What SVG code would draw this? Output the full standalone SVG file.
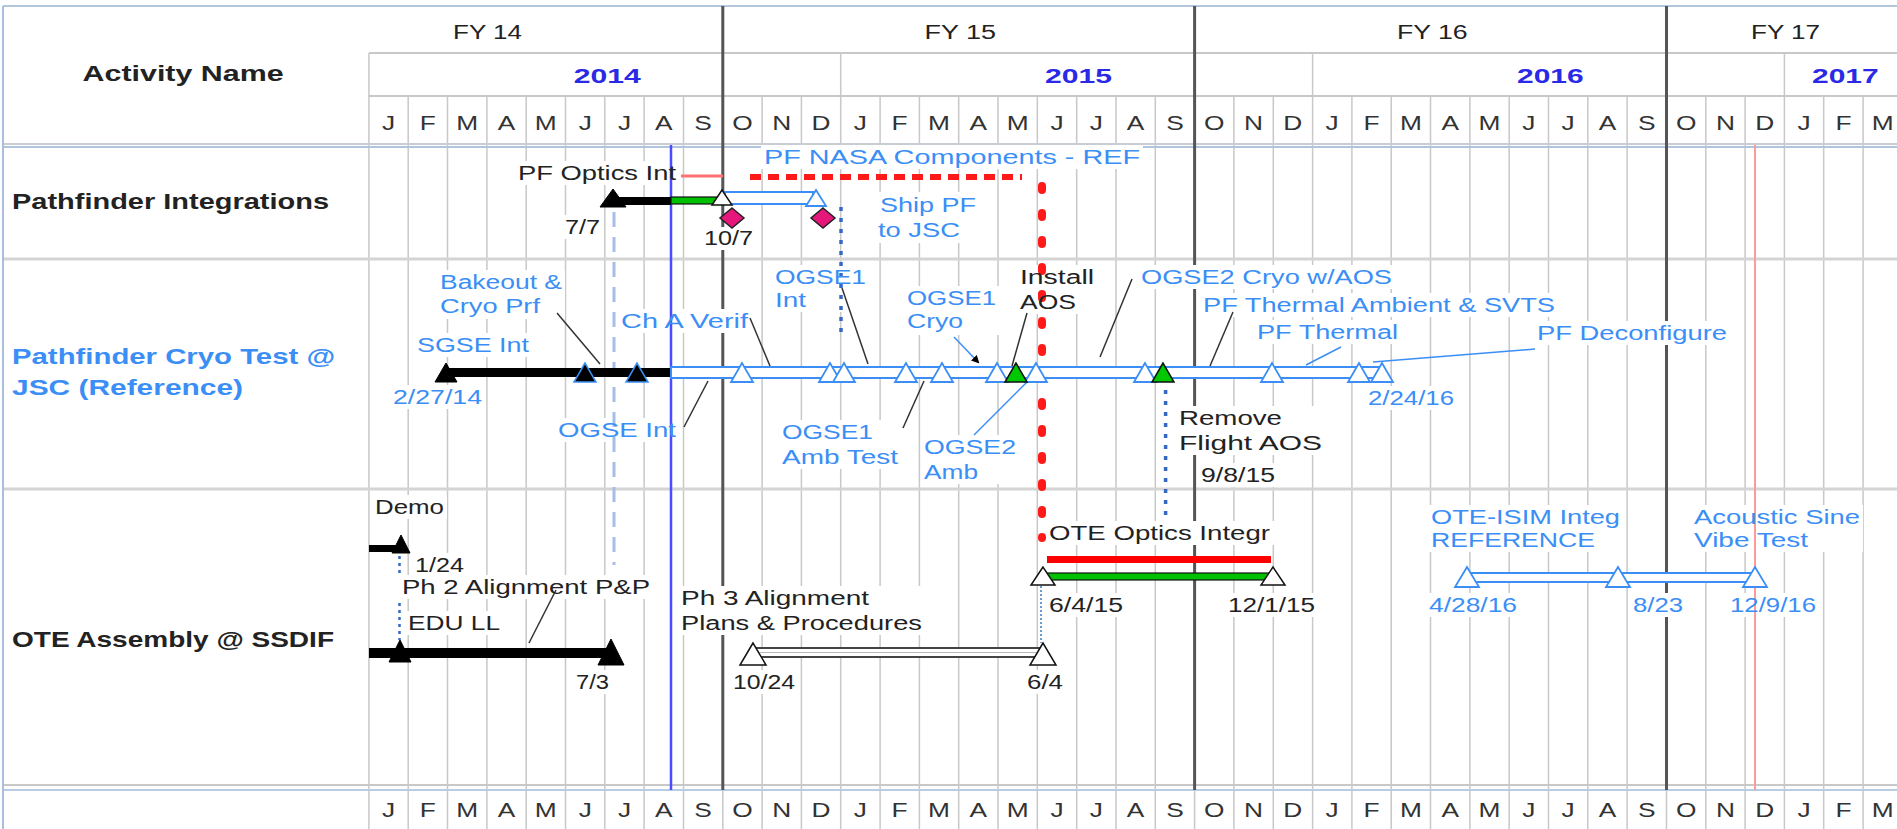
<svg xmlns="http://www.w3.org/2000/svg" width="1897" height="829" viewBox="0 0 1897 829">
<style>
text{font-family:"Liberation Sans",Arial,sans-serif;font-size:20px;fill:#222}
.b{font-weight:bold;font-size:21.5px}
.bl{fill:#3a8ef6}
.yr{fill:#2a2ae6;font-weight:bold;font-size:21px}
.m{fill:#333;text-anchor:middle;font-size:19.5px}
.grid{stroke:#c8c8c8;stroke-width:1.5;fill:none}
.fy{stroke:#555;stroke-width:3}
.box{fill:#fff}
.ld{stroke:#333;stroke-width:1.5;fill:none}
.lb{stroke:#3a8ef6;stroke-width:1.5;fill:none}
.tb{fill:#000;stroke:#000;stroke-width:1}
.tbb{fill:#000;stroke:#3a8ef6;stroke-width:1.5}
.tw{fill:#fff;stroke:#111;stroke-width:1.5}
.twb{fill:#fff;stroke:#3a8ef6;stroke-width:1.8}
.tg{fill:#00c800;stroke:#111;stroke-width:1.5}
.hb{fill:#fff;stroke:#3a8ef6;stroke-width:2}
</style>
<defs>
<marker id="ah" markerWidth="8" markerHeight="8" refX="6" refY="4" orient="auto" markerUnits="userSpaceOnUse"><path d="M0,0 L8,4 L0,8 z" fill="#000"/></marker>
</defs>
<rect width="1897" height="829" fill="#fff"/>
<g id="grid">
<path class="grid" d="M368.9 53V96M840.7 53V96M1312.6 53V96M1784.4 53V96"/>
<path class="grid" d="M368.9 96V829M408.2 96V829M447.5 96V829M486.9 96V829M526.2 96V829M565.5 96V829M604.8 96V829M644.1 96V829M683.5 96V829M722.8 96V829M762.1 96V829M801.4 96V829M840.7 96V829M880.1 96V829M919.4 96V829M958.7 96V829M998 96V829M1037.3 96V829M1076.7 96V829M1116 96V829M1155.3 96V829M1194.6 96V829M1233.9 96V829M1273.3 96V829M1312.6 96V829M1351.9 96V829M1391.2 96V829M1430.5 96V829M1469.9 96V829M1509.2 96V829M1548.5 96V829M1587.8 96V829M1627.1 96V829M1666.5 96V829M1705.8 96V829M1745.1 96V829M1784.4 96V829M1823.7 96V829M1863.1 96V829"/>
<path d="M3 6H1897" stroke="#b4c6dc" stroke-width="2"/>
<path d="M369 53H1897M369 96H1897" stroke="#c8c8c8" stroke-width="2"/>
<path d="M3 144H1897" stroke="#c8cdd4" stroke-width="2"/>
<path d="M3 147H1897" stroke="#b0c4de" stroke-width="2"/>
<path d="M3 259H1897M3 489H1897" stroke="#d4d4d4" stroke-width="3"/>
<path d="M3 785H1897" stroke="#c8c8c8" stroke-width="2"/>
<path d="M3 790H1897" stroke="#b8cce4" stroke-width="2"/>
<path d="M3 6V829" stroke="#a8bedc" stroke-width="2"/>
<path class="fy" d="M722.8 6V790M1194.6 6V790M1666.5 6V790"/>
</g>
<g id="header">
<text x="82.6" y="81" class="b" textLength="201" lengthAdjust="spacingAndGlyphs">Activity Name</text>
<text x="453" y="39" textLength="69" lengthAdjust="spacingAndGlyphs">FY 14</text>
<text x="924.5" y="39" textLength="71.5" lengthAdjust="spacingAndGlyphs">FY 15</text>
<text x="1397" y="39" textLength="70.5" lengthAdjust="spacingAndGlyphs">FY 16</text>
<text x="1751" y="39" textLength="69" lengthAdjust="spacingAndGlyphs">FY 17</text>
<text x="573.7" y="83" class="yr" textLength="67" lengthAdjust="spacingAndGlyphs">2014</text>
<text x="1045" y="83" class="yr" textLength="67" lengthAdjust="spacingAndGlyphs">2015</text>
<text x="1517" y="83" class="yr" textLength="66.6" lengthAdjust="spacingAndGlyphs">2016</text>
<text x="1812" y="83" class="yr" textLength="66.7" lengthAdjust="spacingAndGlyphs">2017</text>
<g transform="scale(1.35,1)">
<text class="m" x="287.8" y="130">J</text><text class="m" x="316.9" y="130">F</text><text class="m" x="346.1" y="130">M</text><text class="m" x="375.2" y="130">A</text><text class="m" x="404.3" y="130">M</text><text class="m" x="433.5" y="130">J</text><text class="m" x="462.6" y="130">J</text><text class="m" x="491.7" y="130">A</text><text class="m" x="520.8" y="130">S</text><text class="m" x="549.9" y="130">O</text><text class="m" x="579.1" y="130">N</text><text class="m" x="608.2" y="130">D</text>
<text class="m" x="637.3" y="130">J</text><text class="m" x="666.4" y="130">F</text><text class="m" x="695.6" y="130">M</text><text class="m" x="724.7" y="130">A</text><text class="m" x="753.9" y="130">M</text><text class="m" x="783" y="130">J</text><text class="m" x="812.1" y="130">J</text><text class="m" x="841.2" y="130">A</text><text class="m" x="870.4" y="130">S</text><text class="m" x="899.5" y="130">O</text><text class="m" x="928.6" y="130">N</text><text class="m" x="957.7" y="130">D</text>
<text class="m" x="986.8" y="130">J</text><text class="m" x="1016" y="130">F</text><text class="m" x="1045.1" y="130">M</text><text class="m" x="1074.2" y="130">A</text><text class="m" x="1103.3" y="130">M</text><text class="m" x="1132.4" y="130">J</text><text class="m" x="1161.6" y="130">J</text><text class="m" x="1190.7" y="130">A</text><text class="m" x="1219.9" y="130">S</text><text class="m" x="1249" y="130">O</text><text class="m" x="1278.1" y="130">N</text><text class="m" x="1307.3" y="130">D</text>
<text class="m" x="1336.4" y="130">J</text><text class="m" x="1365.5" y="130">F</text><text class="m" x="1394.6" y="130">M</text>
<text class="m" x="287.8" y="817">J</text><text class="m" x="316.9" y="817">F</text><text class="m" x="346.1" y="817">M</text><text class="m" x="375.2" y="817">A</text><text class="m" x="404.3" y="817">M</text><text class="m" x="433.5" y="817">J</text><text class="m" x="462.6" y="817">J</text><text class="m" x="491.7" y="817">A</text><text class="m" x="520.8" y="817">S</text><text class="m" x="549.9" y="817">O</text><text class="m" x="579.1" y="817">N</text><text class="m" x="608.2" y="817">D</text>
<text class="m" x="637.3" y="817">J</text><text class="m" x="666.4" y="817">F</text><text class="m" x="695.6" y="817">M</text><text class="m" x="724.7" y="817">A</text><text class="m" x="753.9" y="817">M</text><text class="m" x="783" y="817">J</text><text class="m" x="812.1" y="817">J</text><text class="m" x="841.2" y="817">A</text><text class="m" x="870.4" y="817">S</text><text class="m" x="899.5" y="817">O</text><text class="m" x="928.6" y="817">N</text><text class="m" x="957.7" y="817">D</text>
<text class="m" x="986.8" y="817">J</text><text class="m" x="1016" y="817">F</text><text class="m" x="1045.1" y="817">M</text><text class="m" x="1074.2" y="817">A</text><text class="m" x="1103.3" y="817">M</text><text class="m" x="1132.4" y="817">J</text><text class="m" x="1161.6" y="817">J</text><text class="m" x="1190.7" y="817">A</text><text class="m" x="1219.9" y="817">S</text><text class="m" x="1249" y="817">O</text><text class="m" x="1278.1" y="817">N</text><text class="m" x="1307.3" y="817">D</text>
<text class="m" x="1336.4" y="817">J</text><text class="m" x="1365.5" y="817">F</text><text class="m" x="1394.6" y="817">M</text>
</g>
</g>
<g id="label-boxes">
<rect class="box" x="515" y="161" width="164" height="24"/>
<rect class="box" x="761" y="145" width="382" height="24"/>
<rect class="box" x="876" y="192" width="104" height="51"/>
<rect class="box" x="562" y="215" width="41" height="24"/>
<rect class="box" x="701" y="227" width="55" height="23"/>
<rect class="box" x="437" y="270" width="128" height="49"/>
<rect class="box" x="414" y="333" width="118" height="24"/>
<rect class="box" x="390" y="385" width="95" height="24"/>
<rect class="box" x="555" y="418" width="124" height="24"/>
<rect class="box" x="618" y="309" width="133" height="24"/>
<rect class="box" x="772" y="265" width="98" height="47"/>
<rect class="box" x="904" y="286" width="95" height="49"/>
<rect class="box" x="1017" y="265" width="80" height="49"/>
<rect class="box" x="1138" y="265" width="257" height="24"/>
<rect class="box" x="1200" y="293" width="358" height="24"/>
<rect class="box" x="1254" y="320" width="148" height="24"/>
<rect class="box" x="1534" y="321" width="196" height="24"/>
<rect class="box" x="1365" y="386" width="92" height="24"/>
<rect class="box" x="778" y="420" width="123" height="49"/>
<rect class="box" x="921" y="435" width="98" height="49"/>
<rect class="box" x="1176" y="406" width="149" height="49"/>
<rect class="box" x="1198" y="463" width="80" height="24"/>
<rect class="box" x="372" y="495" width="75" height="24"/>
<rect class="box" x="412" y="553" width="55" height="24"/>
<rect class="box" x="399" y="575" width="254" height="24"/>
<rect class="box" x="405" y="611" width="98" height="24"/>
<rect class="box" x="573" y="670" width="39" height="24"/>
<rect class="box" x="678" y="586" width="247" height="49"/>
<rect class="box" x="730" y="670" width="68" height="24"/>
<rect class="box" x="1024" y="670" width="42" height="24"/>
<rect class="box" x="1046" y="521" width="228" height="24"/>
<rect class="box" x="1046" y="593" width="80" height="24"/>
<rect class="box" x="1225" y="593" width="93" height="24"/>
<rect class="box" x="1428" y="505" width="195" height="47"/>
<rect class="box" x="1691" y="505" width="172" height="47"/>
<rect class="box" x="1426" y="593" width="94" height="24"/>
<rect class="box" x="1630" y="593" width="56" height="24"/>
<rect class="box" x="1727" y="593" width="92" height="24"/>
</g>
<g id="status-lines">
<path d="M671 145V790" stroke="#4b4bff" stroke-width="2.5"/>
<path d="M1755 145V790" stroke="#ff9a9a" stroke-width="2"/>
</g>
<g id="connectors">
<path d="M614 212V565" stroke="#a6bde6" stroke-width="3" stroke-dasharray="15 10"/>
<path d="M681 176H723" stroke="#ff7070" stroke-width="3"/>
<path d="M750 177H1022" stroke="#ff1a1a" stroke-width="6" stroke-dasharray="11 7"/>
<path d="M1042 186V538" stroke="#ff1a1a" stroke-width="8" stroke-linecap="round" stroke-dasharray="4 23"/>
<path d="M841 207V338" stroke="#3468c8" stroke-width="3.5" stroke-dasharray="4 7"/>
<path d="M1165.6 390V515" stroke="#3468c8" stroke-width="3.5" stroke-dasharray="4 7"/>
<path d="M399.5 556V576M399.5 603V640" stroke="#3468c8" stroke-width="2.5" stroke-dasharray="3 4"/>
<path d="M1041 586V643" stroke="#6a9ad8" stroke-width="2" stroke-dasharray="2 2"/>
<path class="ld" d="M557 313L600 364"/>
<path class="ld" d="M750 318L770 366"/>
<path class="ld" d="M708 381L684 427"/>
<path class="ld" d="M842 288L868 364"/>
<path class="ld" d="M924 381L903 428"/>
<path class="lb" d="M954 337L978 362" marker-end="url(#ah)"/>
<path class="ld" d="M1027 313L1012 366"/>
<path class="lb" d="M1027 382L974 435"/>
<path class="ld" d="M1132 279L1100 357"/>
<path class="ld" d="M1233 312L1210 366"/>
<path class="lb" d="M1341 347L1306 365"/>
<path class="lb" d="M1535 349L1373 362"/>
<path class="ld" d="M556 590L529 643"/>
</g>
<g id="pf-integrations">
<text x="12" y="209" class="b" textLength="317" lengthAdjust="spacingAndGlyphs">Pathfinder Integrations</text>
<rect x="613" y="197" width="58" height="8" fill="#000"/>
<rect x="671" y="197" width="48" height="7" fill="#00c000" stroke="#111" stroke-width="1.2"/>
<polygon class="tb" points="613,189 600,207 626,207"/>
<rect class="hb" x="725" y="192" width="88" height="12"/>
<polygon class="tw" points="722,190 712,205 732,205"/>
<polygon class="twb" points="816,190 806,206 826,206"/>
<polygon points="732,208 744,218 732,228 720,218" fill="#e6177a" stroke="#222" stroke-width="1.5"/>
<polygon points="823,208 835,218 823,228 811,218" fill="#e6177a" stroke="#222" stroke-width="1.5"/>
<text x="518" y="180" textLength="158" lengthAdjust="spacingAndGlyphs">PF Optics Int</text>
<text x="565" y="234" textLength="35" lengthAdjust="spacingAndGlyphs">7/7</text>
<text x="704" y="245" textLength="49" lengthAdjust="spacingAndGlyphs">10/7</text>
<text x="764" y="164" class="bl" textLength="376" lengthAdjust="spacingAndGlyphs">PF NASA Components - REF</text>
<text x="880" y="212" class="bl" textLength="96" lengthAdjust="spacingAndGlyphs">Ship PF</text>
<text x="878" y="237" class="bl" textLength="82" lengthAdjust="spacingAndGlyphs">to JSC</text>
</g>
<g id="pf-cryo-test">
<text x="12" y="364" class="b bl" textLength="323" lengthAdjust="spacingAndGlyphs">Pathfinder Cryo Test @</text>
<text x="12" y="395" class="b bl" textLength="231" lengthAdjust="spacingAndGlyphs">JSC (Reference)</text>
<rect x="446" y="368" width="225" height="9" fill="#000"/>
<rect class="hb" x="671" y="367" width="713" height="11"/>
<polygon class="tb" points="446,363 435,382 457,382"/>
<polygon class="tbb" points="585,363 574,382 596,382"/>
<polygon class="tbb" points="637,363 626,382 648,382"/>
<polygon class="twb" points="742,363 731,382 753,382"/>
<polygon class="twb" points="830,363 819,382 841,382"/>
<polygon class="twb" points="844,363 833,382 855,382"/>
<polygon class="twb" points="906,363 895,382 917,382"/>
<polygon class="twb" points="942,363 931,382 953,382"/>
<polygon class="twb" points="997,363 986,382 1008,382"/>
<polygon class="twb" points="1036,363 1025,382 1047,382"/>
<polygon class="twb" points="1145,363 1134,382 1156,382"/>
<polygon class="twb" points="1272,363 1261,382 1283,382"/>
<polygon class="twb" points="1359,363 1348,382 1370,382"/>
<polygon class="twb" points="1382,363 1371,382 1393,382"/>
<polygon class="tg" points="1016,363 1005,382 1027,382"/>
<polygon class="tg" points="1163,363 1152,382 1174,382"/>
<text x="440" y="289" class="bl" textLength="122" lengthAdjust="spacingAndGlyphs">Bakeout &amp;</text>
<text x="440" y="313" class="bl" textLength="100" lengthAdjust="spacingAndGlyphs">Cryo Prf</text>
<text x="417" y="352" class="bl" textLength="112" lengthAdjust="spacingAndGlyphs">SGSE Int</text>
<text x="393" y="404" class="bl" textLength="89" lengthAdjust="spacingAndGlyphs">2/27/14</text>
<text x="558" y="437" class="bl" textLength="118" lengthAdjust="spacingAndGlyphs">OGSE Int</text>
<text x="621" y="328" class="bl" textLength="127" lengthAdjust="spacingAndGlyphs">Ch A Verif</text>
<text x="775" y="284" class="bl" textLength="91" lengthAdjust="spacingAndGlyphs">OGSE1</text>
<text x="775" y="307" class="bl" textLength="31" lengthAdjust="spacingAndGlyphs">Int</text>
<text x="907" y="305" class="bl" textLength="89" lengthAdjust="spacingAndGlyphs">OGSE1</text>
<text x="907" y="328" class="bl" textLength="56" lengthAdjust="spacingAndGlyphs">Cryo</text>
<text x="1020" y="284" textLength="74" lengthAdjust="spacingAndGlyphs">Install</text>
<text x="1020" y="309" textLength="56" lengthAdjust="spacingAndGlyphs">AOS</text>
<text x="1141" y="284" class="bl" textLength="251" lengthAdjust="spacingAndGlyphs">OGSE2 Cryo w/AOS</text>
<text x="1203" y="312" class="bl" textLength="352" lengthAdjust="spacingAndGlyphs">PF Thermal Ambient &amp; SVTS</text>
<text x="1257" y="339" class="bl" textLength="141" lengthAdjust="spacingAndGlyphs">PF Thermal</text>
<text x="1537" y="340" class="bl" textLength="190" lengthAdjust="spacingAndGlyphs">PF Deconfigure</text>
<text x="1368" y="405" class="bl" textLength="86" lengthAdjust="spacingAndGlyphs">2/24/16</text>
<text x="782" y="439" class="bl" textLength="91" lengthAdjust="spacingAndGlyphs">OGSE1</text>
<text x="782" y="464" class="bl" textLength="116" lengthAdjust="spacingAndGlyphs">Amb Test</text>
<text x="924" y="454" class="bl" textLength="92" lengthAdjust="spacingAndGlyphs">OGSE2</text>
<text x="924" y="479" class="bl" textLength="54" lengthAdjust="spacingAndGlyphs">Amb</text>
<text x="1179" y="425" textLength="103" lengthAdjust="spacingAndGlyphs">Remove</text>
<text x="1179" y="450" textLength="143" lengthAdjust="spacingAndGlyphs">Flight AOS</text>
<text x="1201" y="482" textLength="74" lengthAdjust="spacingAndGlyphs">9/8/15</text>
</g>
<g id="ote-assembly">
<text x="12" y="647" class="b" textLength="322" lengthAdjust="spacingAndGlyphs">OTE Assembly @ SSDIF</text>
<rect x="369" y="545" width="29" height="7" fill="#000"/>
<polygon class="tb" points="401,535 392,553 410,553"/>
<rect x="369" y="648" width="242" height="10" fill="#000"/>
<polygon class="tb" points="400,640 389,662 411,662"/>
<polygon class="tb" points="611,639 598,665 624,665"/>
<rect x="753" y="648" width="290" height="9" fill="#fff" stroke="#444" stroke-width="2"/>
<path d="M753 652.5H1043" stroke="#bbb" stroke-width="1"/>
<polygon class="tw" points="753,643 740,665 766,665"/>
<polygon class="tw" points="1043,643 1030,665 1056,665"/>
<rect x="1047" y="556" width="224" height="7" fill="#ff0000"/>
<rect x="1043" y="573" width="230" height="7" fill="#00c000" stroke="#111" stroke-width="1.2"/>
<polygon class="tw" points="1043,567 1031,585 1055,585"/>
<polygon class="tw" points="1273,567 1261,585 1285,585"/>
<rect class="hb" x="1467" y="573" width="288" height="9"/>
<polygon class="twb" points="1467,567 1455,587 1479,587"/>
<polygon class="twb" points="1618,567 1606,587 1630,587"/>
<polygon class="twb" points="1755,567 1743,587 1767,587"/>
<text x="375" y="514" textLength="69" lengthAdjust="spacingAndGlyphs">Demo</text>
<text x="415" y="572" textLength="49" lengthAdjust="spacingAndGlyphs">1/24</text>
<text x="402" y="594" textLength="248" lengthAdjust="spacingAndGlyphs">Ph 2 Alignment P&amp;P</text>
<text x="408" y="630" textLength="92" lengthAdjust="spacingAndGlyphs">EDU LL</text>
<text x="576" y="689" textLength="33" lengthAdjust="spacingAndGlyphs">7/3</text>
<text x="681" y="605" textLength="188" lengthAdjust="spacingAndGlyphs">Ph 3 Alignment</text>
<text x="681" y="630" textLength="241" lengthAdjust="spacingAndGlyphs">Plans &amp; Procedures</text>
<text x="733" y="689" textLength="62" lengthAdjust="spacingAndGlyphs">10/24</text>
<text x="1027" y="689" textLength="36" lengthAdjust="spacingAndGlyphs">6/4</text>
<text x="1049" y="540" textLength="221" lengthAdjust="spacingAndGlyphs">OTE Optics Integr</text>
<text x="1049" y="612" textLength="74" lengthAdjust="spacingAndGlyphs">6/4/15</text>
<text x="1228" y="612" textLength="87" lengthAdjust="spacingAndGlyphs">12/1/15</text>
<text x="1431" y="524" class="bl" textLength="189" lengthAdjust="spacingAndGlyphs">OTE-ISIM Integ</text>
<text x="1431" y="547" class="bl" textLength="164" lengthAdjust="spacingAndGlyphs">REFERENCE</text>
<text x="1694" y="524" class="bl" textLength="166" lengthAdjust="spacingAndGlyphs">Acoustic Sine</text>
<text x="1694" y="547" class="bl" textLength="114" lengthAdjust="spacingAndGlyphs">Vibe Test</text>
<text x="1429" y="612" class="bl" textLength="88" lengthAdjust="spacingAndGlyphs">4/28/16</text>
<text x="1633" y="612" class="bl" textLength="50" lengthAdjust="spacingAndGlyphs">8/23</text>
<text x="1730" y="612" class="bl" textLength="86" lengthAdjust="spacingAndGlyphs">12/9/16</text>
</g>
</svg>
